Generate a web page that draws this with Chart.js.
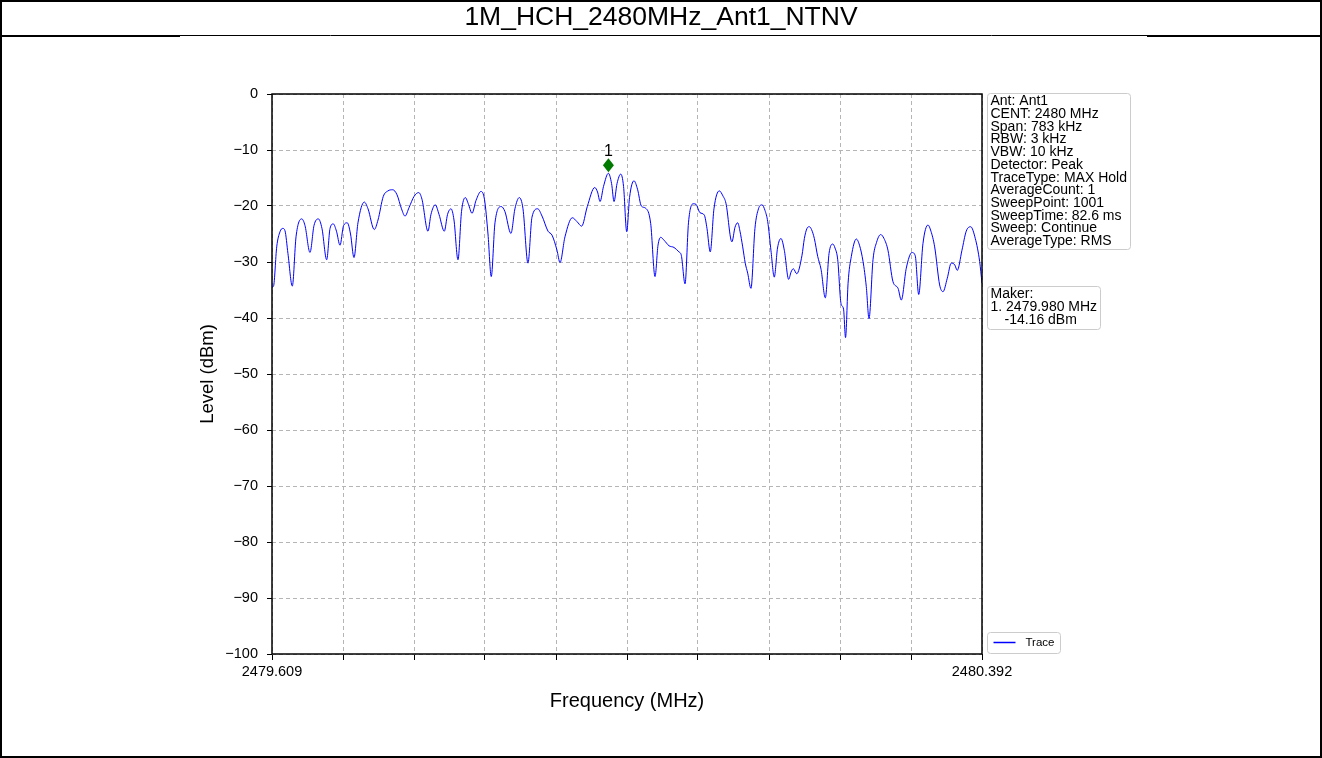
<!DOCTYPE html>
<html>
<head>
<meta charset="utf-8">
<title>1M_HCH_2480MHz_Ant1_NTNV</title>
<script src="https://cdn.jsdelivr.net/npm/chart.js@4.4.1/dist/chart.umd.min.js"></script>
<style>
  html, body { margin: 0; padding: 0; background: #ffffff; }
  #wrap { position: relative; width: 1322px; height: 758px; }
  canvas { display: block; }
</style>
</head>
<body>
<div id="wrap"><canvas id="spectrum" width="1322" height="758"></canvas></div>
<script>
// ---- Measurement data -------------------------------------------------
const chartTitle = '1M_HCH_2480MHz_Ant1_NTNV';
const freqStart = 2479.609;
const freqStop = 2480.392;
const freqTickValues = [2479.609, 2479.6873, 2479.7656, 2479.8439, 2479.9222, 2480.0005,
                        2480.0788, 2480.1571, 2480.2354, 2480.3137, 2480.392];
const freqTickLabels = ['2479.609', '', '', '', '', '', '', '', '', '', '2480.392'];
const levelTicks = [0, -10, -20, -30, -40, -50, -60, -70, -80, -90, -100];

// Max-hold trace (MHz / dBm)
const traceFreqMHz = [
  2479.6090, 2479.6107, 2479.6142, 2479.6178, 2479.6208, 2479.6233, 2479.6266, 2479.6314, 2479.6355, 2479.6418,
  2479.6454, 2479.6509, 2479.6553, 2479.6601, 2479.6641, 2479.6693, 2479.6730, 2479.6766, 2479.6801, 2479.6840,
  2479.6879, 2479.6920, 2479.6956, 2479.6994, 2479.7038, 2479.7108, 2479.7149, 2479.7218, 2479.7259, 2479.7317,
  2479.7369, 2479.7421, 2479.7469, 2479.7518, 2479.7557, 2479.7601, 2479.7656, 2479.7708, 2479.7744, 2479.7810,
  2479.7843, 2479.7891, 2479.7932, 2479.7990, 2479.8026, 2479.8064, 2479.8097, 2479.8141, 2479.8180, 2479.8222,
  2479.8257, 2479.8296, 2479.8340, 2479.8395, 2479.8433, 2479.8472, 2479.8508, 2479.8549, 2479.8618, 2479.8659,
  2479.8725, 2479.8769, 2479.8817, 2479.8858, 2479.8913, 2479.8957, 2479.9020, 2479.9068, 2479.9134, 2479.9178,
  2479.9233, 2479.9266, 2479.9321, 2479.9402, 2479.9454, 2479.9505, 2479.9567, 2479.9649, 2479.9680, 2479.9708,
  2479.9746, 2479.9800, 2479.9835, 2479.9862, 2479.9895, 2479.9936, 2479.9967, 2480.0002, 2480.0033, 2480.0082,
  2480.0121, 2480.0163, 2480.0211, 2480.0266, 2480.0314, 2480.0347, 2480.0377, 2480.0413, 2480.0468, 2480.0523,
  2480.0578, 2480.0604, 2480.0645, 2480.0683, 2480.0736, 2480.0766, 2480.0810, 2480.0857, 2480.0887, 2480.0923,
  2480.0964, 2480.1023, 2480.1063, 2480.1096, 2480.1162, 2480.1196, 2480.1226, 2480.1251, 2480.1281, 2480.1309,
  2480.1336, 2480.1372, 2480.1416, 2480.1455, 2480.1494, 2480.1527, 2480.1557, 2480.1593, 2480.1629, 2480.1665,
  2480.1703, 2480.1740, 2480.1788, 2480.1814, 2480.1839, 2480.1877, 2480.1935, 2480.1961, 2480.1990, 2480.2016,
  2480.2040, 2480.2071, 2480.2108, 2480.2145, 2480.2192, 2480.2233, 2480.2274, 2480.2299, 2480.2329, 2480.2365,
  2480.2393, 2480.2415, 2480.2443, 2480.2479, 2480.2534, 2480.2569, 2480.2608, 2480.2644, 2480.2674, 2480.2718,
  2480.2757, 2480.2803, 2480.2839, 2480.2883, 2480.2938, 2480.2994, 2480.3030, 2480.3085, 2480.3148, 2480.3184,
  2480.3222, 2480.3269, 2480.3324, 2480.3357, 2480.3398, 2480.3453, 2480.3490, 2480.3537, 2480.3581, 2480.3619,
  2480.3647, 2480.3699, 2480.3746, 2480.3795, 2480.3846, 2480.3894, 2480.3920
];
const traceLevelDbm = [
  -34.5, -34.3, -27.3, -24.6, -24.0, -24.4, -28.5, -34.3, -25.5, -22.3,
  -23.5, -28.3, -23.5, -22.3, -24.0, -29.6, -24.0, -23.2, -24.5, -27.0,
  -23.5, -23.0, -25.0, -29.2, -23.0, -19.3, -20.5, -24.2, -22.5, -18.3,
  -17.3, -17.1, -18.0, -20.5, -21.8, -20.3, -18.3, -17.6, -18.8, -24.5,
  -21.5, -19.8, -21.5, -24.5, -21.5, -20.5, -22.5, -29.6, -21.0, -18.5,
  -19.7, -21.3, -19.0, -17.4, -18.8, -25.0, -32.6, -23.0, -20.1, -21.0,
  -24.9, -20.5, -18.5, -20.5, -30.2, -22.0, -20.5, -21.8, -24.5, -25.2,
  -27.9, -30.1, -25.5, -22.1, -22.8, -23.6, -20.1, -16.7, -17.5, -19.2,
  -16.5, -14.16, -16.0, -19.2, -16.0, -14.3, -16.5, -24.6, -18.5, -15.5,
  -17.0, -20.0, -20.4, -23.1, -32.6, -27.0, -25.6, -26.1, -27.1, -27.4,
  -28.2, -28.8, -33.9, -23.0, -19.6, -19.7, -21.2, -21.6, -24.0, -28.2,
  -20.5, -17.3, -18.2, -19.5, -26.4, -23.8, -23.0, -24.5, -27.3, -30.2,
  -32.0, -34.7, -24.0, -20.5, -19.8, -20.8, -22.8, -28.0, -32.7, -27.5,
  -25.8, -27.9, -33.1, -31.8, -31.2, -32.1, -28.8, -25.8, -24.0, -23.7,
  -24.2, -25.8, -29.0, -31.3, -36.4, -28.5, -26.8, -27.5, -29.6, -37.4,
  -38.4, -43.5, -33.8, -29.0, -25.9, -27.0, -29.9, -34.4, -40.1, -29.6,
  -26.5, -25.1, -25.8, -27.9, -33.5, -34.7, -36.8, -31.1, -28.3, -28.9,
  -35.8, -26.7, -23.4, -24.5, -27.3, -34.1, -35.3, -32.9, -30.2, -30.5,
  -31.5, -27.9, -24.5, -23.7, -25.8, -29.9, -33.8
];

// Peak marker
const markerFreqMHz = 2479.980;
const markerLevelDbm = -14.16;

// Analyzer settings panel
const settingLines = [
  'Ant: Ant1',
  'CENT: 2480 MHz',
  'Span: 783 kHz',
  'RBW: 3 kHz',
  'VBW: 10 kHz',
  'Detector: Peak',
  'TraceType: MAX Hold',
  'AverageCount: 1',
  'SweepPoint: 1001',
  'SweepTime: 82.6 ms',
  'Sweep: Continue',
  'AverageType: RMS'
];

// ---- Rendering ---------------------------------------------------------
const FONT = "'Liberation Sans', Arial, Helvetica, sans-serif";
Chart.defaults.font.family = FONT;
Chart.defaults.color = '#000000';

function roundBox(ctx, x, y, w, h, r) {
  ctx.beginPath();
  ctx.moveTo(x + r, y);
  ctx.lineTo(x + w - r, y);
  ctx.arcTo(x + w, y, x + w, y + r, r);
  ctx.lineTo(x + w, y + h - r);
  ctx.arcTo(x + w, y + h, x + w - r, y + h, r);
  ctx.lineTo(x + r, y + h);
  ctx.arcTo(x, y + h, x, y + h - r, r);
  ctx.lineTo(x, y + r);
  ctx.arcTo(x, y, x + r, y, r);
  ctx.closePath();
}

const decorations = {
  id: 'decorations',
  beforeDraw(chart) {
    const ctx = chart.ctx;
    ctx.save();
    ctx.fillStyle = '#ffffff';
    ctx.fillRect(0, 0, chart.width, chart.height);
    ctx.restore();
  },
  afterDraw(chart) {
    const ctx = chart.ctx;
    const W = chart.width, H = chart.height;
    const area = chart.chartArea;
    const xs = chart.scales.x, ys = chart.scales.y;
    ctx.save();

    // outer frame and title band
    ctx.strokeStyle = '#000000';
    ctx.lineWidth = 2;
    ctx.strokeRect(1, 1, W - 2, H - 2);
    ctx.lineWidth = 1;
    ctx.beginPath();
    ctx.moveTo(0, 35.5); ctx.lineTo(W, 35.5);
    ctx.stroke();
    ctx.lineWidth = 2;
    ctx.beginPath();
    ctx.moveTo(0, 36); ctx.lineTo(180, 36);
    ctx.moveTo(1147, 36); ctx.lineTo(W, 36);
    ctx.stroke();

    ctx.fillStyle = '#000000';
    ctx.font = '26.5px ' + FONT;
    ctx.textAlign = 'center';
    ctx.textBaseline = 'middle';
    ctx.fillText(chartTitle, W / 2, 18);

    // axes frame
    ctx.strokeStyle = '#000000';
    ctx.lineWidth = 1.5;
    ctx.strokeRect(area.left, area.top, area.right - area.left, area.bottom - area.top);

    // peak marker (drawn just above the trace point)
    const mx = xs.getPixelForValue(markerFreqMHz);
    const my = ys.getPixelForValue(markerLevelDbm) - 8;
    ctx.fillStyle = '#007a00';
    ctx.beginPath();
    ctx.moveTo(mx, my - 7);
    ctx.lineTo(mx + 5.5, my);
    ctx.lineTo(mx, my + 7);
    ctx.lineTo(mx - 5.5, my);
    ctx.closePath();
    ctx.fill();
    ctx.fillStyle = '#000000';
    ctx.font = '16px ' + FONT;
    ctx.textAlign = 'center';
    ctx.textBaseline = 'middle';
    ctx.fillText('1', mx, my - 14);

    // settings panel
    const bx = area.right + 5.5;
    ctx.fillStyle = 'rgba(255,255,255,0.85)';
    ctx.strokeStyle = '#cccccc';
    ctx.lineWidth = 1;
    roundBox(ctx, bx, area.top - 0.5, 143, 156, 3);
    ctx.fill(); ctx.stroke();
    ctx.fillStyle = '#000000';
    ctx.font = '14px ' + FONT;
    ctx.textAlign = 'left';
    ctx.textBaseline = 'middle';
    settingLines.forEach((t, i) => ctx.fillText(t, bx + 3, area.top + 7.5 + i * 12.7));

    // marker readout panel
    const markerText = [
      'Maker:',
      '1. ' + markerFreqMHz.toFixed(3) + ' MHz',
      markerLevelDbm.toFixed(2) + ' dBm'
    ];
    ctx.fillStyle = 'rgba(255,255,255,0.85)';
    ctx.strokeStyle = '#cccccc';
    roundBox(ctx, bx, 286.5, 113, 43, 3);
    ctx.fill(); ctx.stroke();
    ctx.fillStyle = '#000000';
    ctx.fillText(markerText[0], bx + 3, 294.5);
    ctx.fillText(markerText[1], bx + 3, 307.5);
    ctx.fillText(markerText[2], bx + 17, 320.5);

    // legend
    const ds = chart.data.datasets[0];
    ctx.fillStyle = 'rgba(255,255,255,0.85)';
    ctx.strokeStyle = '#cccccc';
    roundBox(ctx, bx, area.bottom - 21.5, 73, 21, 3);
    ctx.fill(); ctx.stroke();
    ctx.strokeStyle = ds.borderColor;
    ctx.lineWidth = 1.5;
    ctx.beginPath();
    ctx.moveTo(bx + 6, area.bottom - 11.5);
    ctx.lineTo(bx + 28, area.bottom - 11.5);
    ctx.stroke();
    ctx.fillStyle = '#000000';
    ctx.font = '11.5px ' + FONT;
    ctx.fillText(ds.label, bx + 38, area.bottom - 11);

    ctx.restore();
  }
};

const tracePoints = traceFreqMHz.map((f, i) => ({ x: f, y: traceLevelDbm[i] }));

new Chart(document.getElementById('spectrum'), {
  type: 'line',
  data: {
    datasets: [{
      label: 'Trace',
      data: tracePoints,
      borderColor: '#0000ff',
      borderWidth: 1,
      pointRadius: 0,
      fill: false,
      cubicInterpolationMode: 'monotone'
    }]
  },
  options: {
    responsive: false,
    animation: false,
    devicePixelRatio: 1,
    layout: { padding: { left: 180, right: 340, top: 94, bottom: 34 } },
    plugins: {
      legend: { display: false },
      title: { display: false },
      tooltip: { enabled: false }
    },
    scales: {
      x: {
        type: 'linear',
        min: freqStart,
        max: freqStop,
        afterBuildTicks: s => { s.ticks = freqTickValues.map(v => ({ value: v })); },
        afterFit: s => { s.height = 70; },
        ticks: {
          autoSkip: false,
          maxRotation: 0,
          padding: 3,
          font: { size: 14.5 },
          color: '#000000',
          callback: (v, i) => freqTickLabels[i]
        },
        grid: {
          color: '#b5b5b5',
          lineWidth: 1,
          tickLength: 6,
          tickColor: '#000000',
          tickWidth: 1,
          tickBorderDash: []
        },
        border: { display: false, dash: [4, 3] },
        title: {
          display: true,
          text: 'Frequency (MHz)',
          font: { size: 20 },
          color: '#000000',
          padding: { top: 0, bottom: 11 }
        }
      },
      y: {
        min: -100,
        max: 0,
        afterBuildTicks: s => { s.ticks = levelTicks.map(v => ({ value: v })); },
        afterFit: s => { s.width = 92; },
        ticks: {
          padding: 9,
          font: { size: 14.5 },
          color: '#000000',
          callback: v => String(v).replace('-', '\u2212')
        },
        grid: {
          color: '#b5b5b5',
          lineWidth: 1,
          tickLength: 5,
          tickColor: '#000000',
          tickWidth: 1,
          tickBorderDash: []
        },
        border: { display: false, dash: [4, 3] },
        title: {
          display: true,
          text: 'Level (dBm)',
          font: { size: 18.5 },
          color: '#000000',
          padding: { top: 17, bottom: 0 }
        }
      }
    }
  },
  plugins: [decorations]
});
</script>
</body>
</html>
